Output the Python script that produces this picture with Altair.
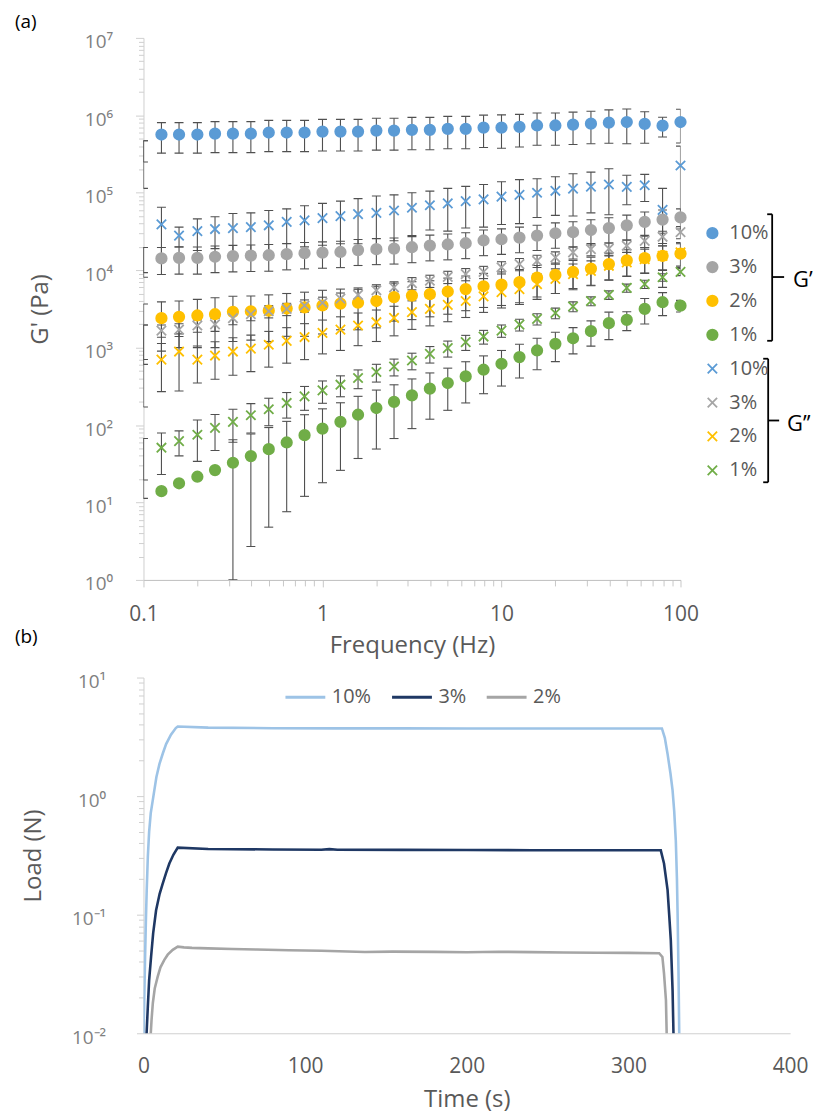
import altair as alt
import pandas as pd

# ---------------- panel (a): frequency sweep ----------------
freq = [0.126, 0.158, 0.2, 0.251, 0.316, 0.398, 0.501, 0.631, 0.794, 1.0,
        1.26, 1.58, 2.0, 2.51, 3.16, 3.98, 5.01, 6.31, 7.94, 10.0,
        12.6, 15.8, 20.0, 25.1, 31.6, 39.8, 50.1, 63.1, 79.4, 100.0]

gp_10 = [5.65e5, 5.65e5, 5.65e5, 5.8e5, 5.8e5, 5.8e5, 6.0e5, 6.0e5, 6.0e5, 6.17e5,
         6.17e5, 6.17e5, 6.35e5, 6.35e5, 6.5e5, 6.5e5, 6.7e5, 6.7e5, 6.95e5, 6.95e5,
         7.1e5, 7.4e5, 7.4e5, 7.6e5, 7.8e5, 8.05e5, 8.2e5, 7.75e5, 7.35e5, 8.2e5]
gp_10_sd = [2.4e5, 2.4e5, 2.4e5, 2.5e5, 2.5e5, 2.5e5, 2.6e5, 2.6e5, 2.6e5, 2.7e5,
            2.7e5, 2.7e5, 2.8e5, 2.8e5, 2.9e5, 2.9e5, 3.0e5, 3.0e5, 3.1e5, 3.2e5,
            3.2e5, 3.3e5, 3.3e5, 3.4e5, 3.5e5, 3.7e5, 3.9e5, 3.4e5, 2.1e5, 3.8e5]

gp_3 = [1.42e4, 1.44e4, 1.44e4, 1.49e4, 1.52e4, 1.54e4, 1.56e4, 1.61e4, 1.66e4, 1.69e4,
        1.72e4, 1.82e4, 1.87e4, 1.9e4, 1.98e4, 2.08e4, 2.15e4, 2.23e4, 2.42e4, 2.51e4,
        2.64e4, 2.8e4, 3.0e4, 3.1e4, 3.3e4, 3.5e4, 3.8e4, 4.2e4, 4.5e4, 4.8e4]
gp_3_sd = [5.4e3, 5.5e3, 5.5e3, 5.6e3, 5.7e3, 5.8e3, 5.9e3, 6.0e3, 6.2e3, 6.3e3,
           6.4e3, 6.7e3, 6.9e3, 7.0e3, 7.3e3, 7.6e3, 7.9e3, 8.2e3, 8.8e3, 9.1e3,
           9.6e3, 1.0e4, 1.08e4, 1.12e4, 1.18e4, 1.25e4, 1.35e4, 1.45e4, 1.5e4, 1.4e4]

gp_2 = [2.4e3, 2.5e3, 2.6e3, 2.7e3, 2.9e3, 2.95e3, 3.0e3, 3.2e3, 3.3e3, 3.5e3,
        3.7e3, 3.8e3, 4.0e3, 4.5e3, 4.7e3, 4.9e3, 5.3e3, 5.7e3, 6.2e3, 6.5e3,
        7.0e3, 8.0e3, 8.7e3, 9.5e3, 1.05e4, 1.2e4, 1.34e4, 1.43e4, 1.53e4, 1.64e4]
gp_2_sd = [1.5e3, 1.5e3, 1.6e3, 1.7e3, 1.7e3, 1.7e3, 1.8e3, 1.8e3, 1.9e3, 2.0e3,
           2.0e3, 2.1e3, 2.2e3, 2.3e3, 2.4e3, 2.4e3, 2.6e3, 2.7e3, 2.9e3, 3.0e3,
           3.2e3, 3.5e3, 3.7e3, 3.9e3, 4.2e3, 4.6e3, 5.0e3, 5.2e3, 5.4e3, 5.6e3]

gp_1 = [14, 17.7, 21.5, 26.2, 32.6, 39.7, 48.8, 59.6, 74, 90,
        110, 136, 166, 199, 242, 295, 349, 425, 518, 619,
        755, 919, 1120, 1320, 1630, 2070, 2280, 3160, 3860, 3480]
gp_1_sd = [1, 1, 1, 1.5, 32, 37, 44, 52, 62, 72,
           84, 99, 117, 132, 152, 176, 194, 232, 264, 300,
           350, 400, 460, 490, 585, 800, 620, 1140, 1270, 600]

gpp_10 = [3.9e4, 2.8e4, 3.2e4, 3.4e4, 3.5e4, 3.6e4, 3.8e4, 4.2e4, 4.4e4, 4.7e4,
          5.0e4, 5.3e4, 5.5e4, 5.9e4, 6.4e4, 6.9e4, 7.3e4, 7.8e4, 8.2e4, 8.9e4,
          9.4e4, 1.0e5, 1.06e5, 1.13e5, 1.2e5, 1.28e5, 1.19e5, 1.25e5, 6.0e4, 2.25e5]
gpp_10_sd = [2.6e4, 8e3, 1.4e4, 1.5e4, 1.9e4, 1.9e4, 2.1e4, 2.0e4, 2.4e4, 2.6e4,
             2.8e4, 3.1e4, 3.6e4, 3.5e4, 3.6e4, 3.6e4, 4.1e4, 4.3e4, 4.6e4, 5.0e4,
             5.4e4, 5.2e4, 5.5e4, 6.3e4, 6.5e4, 7.6e4, 4.9e4, 4.8e4, 5.4e4, 1.75e5]

gpp_3 = [1.66e3, 1.71e3, 1.93e3, 2.0e3, 2.4e3, 2.7e3, 2.95e3, 3.16e3, 3.5e3, 3.8e3,
         4.3e3, 4.8e3, 5.5e3, 6.0e3, 6.8e3, 7.3e3, 8.2e3, 8.9e3, 9.5e3, 1.09e4,
         1.2e4, 1.32e4, 1.46e4, 1.7e4, 1.87e4, 1.9e4, 2.07e4, 2.39e4, 2.7e4, 3.1e4]
gpp_3_sd = [300, 320, 350, 380, 430, 480, 530, 570, 630, 680,
            770, 860, 990, 1080, 1220, 1310, 1480, 1600, 1710, 1960,
            2160, 2380, 2630, 3060, 3370, 3420, 3730, 4300, 4860, 5580]

gpp_2 = [700, 890, 700, 790, 890, 970, 1090, 1220, 1370, 1550,
         1710, 1930, 2130, 2420, 2870, 3160, 3560, 4000, 4600, 5200,
         5700, 6600, 7700, 8900, 9800, 1.14e4, 1.26e4, 1.39e4, 1.53e4, 1.7e4]
gpp_2_sd = [430, 615, 350, 400, 450, 480, 530, 590, 670, 720,
            790, 870, 930, 1000, 1150, 1250, 1400, 1550, 1750, 1950,
            2100, 2400, 2700, 3100, 3400, 3900, 4300, 4700, 5200, 5700]

gpp_1 = [51, 62, 75, 92, 110, 134, 160, 193, 235, 281,
         332, 405, 484, 571, 682, 832, 985, 1180, 1390, 1660,
         1980, 2350, 2800, 3400, 4000, 4800, 5900, 6600, 8100, 9500]
gpp_1_sd = [28, 22, 41, 45, 50, 55, 62, 70, 80, 90,
            100, 110, 125, 140, 165, 200, 230, 260, 280, 300,
            340, 390, 440, 500, 520, 600, 700, 800, 900, 1000]

# stray error bars sitting on the 0.1 Hz axis edge
edge_f = 0.1
edge_lo = [1.14e5, 2.5e5, 8.1e3, 9.3e3, 607, 171, 703, 11.3, 19.5]
edge_hi = [4.7e5, 4.7e5, 1.96e4, 1.96e4, 3.66e3, 1.96e3, 1.96e3, 67, 67]

series_names = ["G'|10%", "G'|3%", "G'|2%", "G'|1%",
                "G''|10%", "G''|3%", "G''|2%", "G''|1%"]
series_vals = [gp_10, gp_3, gp_2, gp_1, gpp_10, gpp_3, gpp_2, gpp_1]
series_sd = [gp_10_sd, gp_3_sd, gp_2_sd, gp_1_sd, gpp_10_sd, gpp_3_sd, gpp_2_sd, gpp_1_sd]
series_colors = ["#5B9BD5", "#A5A5A5", "#FFC000", "#70AD47",
                 "#5B9BD5", "#A5A5A5", "#FFC000", "#70AD47"]
XPATH = "M-0.9,-0.9L0.9,0.9M-0.9,0.9L0.9,-0.9"
series_shapes = ["circle"] * 4 + [XPATH] * 4

# ---------------- panel (b): load vs time ----------------
t_10 = [0, 0.5, 1, 1.5, 2, 2.7, 3.5, 4.5, 6.2, 8, 9.9, 12, 14, 17, 20, 21.2, 40, 80, 120,
        160, 200, 240, 280, 320.7, 322.5, 324.2, 326, 327.3, 328.3, 329.3, 330, 330.4, 331, 331.5]
load_10 = [0.008, 0.02, 0.044, 0.09, 0.16, 0.31, 0.5, 0.72, 1.01, 1.45, 1.87, 2.3, 2.75, 3.3,
           3.75, 3.87, 3.78, 3.74, 3.73, 3.73, 3.72, 3.72, 3.72, 3.72, 3.1, 2.27, 1.55, 1.12,
           0.75, 0.42, 0.2, 0.103, 0.03, 0.008]
t_3 = [1.6, 2.7, 3.5, 4.7, 6, 7.8, 10, 11.9, 14, 16, 18.5, 21.2, 40, 80, 110, 115, 120, 160,
       200, 240, 280, 320, 322, 324.2, 325.2, 326.2, 327.3, 328]
load_3 = [0.008, 0.0169, 0.028, 0.044, 0.07, 0.109, 0.15, 0.183, 0.225, 0.27, 0.32, 0.368,
          0.358, 0.355, 0.353, 0.357, 0.353, 0.352, 0.351, 0.35, 0.35, 0.349, 0.27, 0.162,
          0.1, 0.061, 0.023, 0.008]
t_2 = [4.1, 5, 5.8, 7, 8.8, 10.5, 12.9, 15, 18.1, 21.2, 25, 30, 40, 55, 70, 90, 110, 137,
       154, 180, 200, 220, 240, 260, 280, 300, 319, 321, 322, 323.2, 323.8]
load_2 = [0.008, 0.013, 0.018, 0.024, 0.030, 0.036, 0.0416, 0.046, 0.0505, 0.0538, 0.053,
          0.0525, 0.052, 0.0513, 0.0508, 0.0502, 0.0496, 0.0485, 0.0488, 0.0486, 0.0482,
          0.0487, 0.0483, 0.048, 0.0478, 0.0476, 0.0473, 0.044, 0.032, 0.019, 0.008]
load_names = ["10%", "3%", "2%"]
load_colors = ["#9DC3E6", "#1F3864", "#A5A5A5"]

# ---------------- build tables ----------------
rows = []
for i, (name, vals, sds) in enumerate(zip(series_names, series_vals, series_sd)):
    for f, v, sd in zip(freq, vals, sds):
        rows.append({"s": name, "f": f, "v": v, "lo": max(v - sd, 1.0), "hi": v + sd, "k": i})
df_a = pd.DataFrame(rows)
err_df = pd.concat([
    df_a[["f", "lo", "hi"]],
    pd.DataFrame({"f": [edge_f] * len(edge_lo), "lo": edge_lo, "hi": edge_hi}),
], ignore_index=True)

df_b = pd.concat([
    pd.DataFrame({"t": t_10, "load": load_10, "c": "10%"}),
    pd.DataFrame({"t": t_3, "load": load_3, "c": "3%"}),
    pd.DataFrame({"t": t_2, "load": load_2, "c": "2%"}),
], ignore_index=True)

FONT = "Open Sans"
ISPOW = "abs(log(datum.value)/LN10 - round(log(datum.value)/LN10)) < 0.001"

xa_vals = [m * 10.0 ** e for e in (-1, 0, 1) for m in range(1, 10)] + [100.0]
ya_vals = [m * 10.0 ** e for e in range(0, 7) for m in range(1, 10)] + [1e7]
yb_vals = [m * 10.0 ** e for e in (-2, -1, 0) for m in range(1, 10)] + [10.0]

x_scale_a = alt.Scale(type="log", domain=[0.1, 100], nice=False)
y_scale_a = alt.Scale(type="log", domain=[1, 1e7], nice=False)

x_axis_a = alt.Axis(
    values=xa_vals, title="Frequency (Hz)",
    labelExpr=f"{ISPOW} ? format(datum.value, '~g') : ''",
    tickSize={"condition": {"test": ISPOW, "value": 7}, "value": 6},
    tickColor="#C8C8C8", domainColor="#BFBFBF", labelColor="#595959",
    labelFontSize=21, labelPadding=17, labelFont=FONT, labelOverlap=False, labelFlush=False,
    titleFontSize=24, titleColor="#595959", titleFont=FONT, titleFontWeight="normal",
    titlePadding=9, grid=False,
)
y_axis_a = alt.Axis(
    values=ya_vals, title="G' (Pa)",
    labelExpr=f"{ISPOW} ? '10' + ['⁰','¹','²','³','⁴','⁵','⁶','⁷'][round(log(datum.value)/LN10)] : ''",
    tickSize={"condition": {"test": ISPOW, "value": 8}, "value": 5},
    tickColor="#D0D0D0", domainColor="#D0D0D0", labelColor="#808080",
    labelFontSize=19, labelPadding=23, labelOffset=4, labelFont=FONT, labelOverlap=False,
    labelFlush=False, titleFontSize=24, titleColor="#595959", titleFont=FONT,
    titleFontWeight="normal", titlePadding=32, grid=False,
)

legend_a = alt.Legend(
    orient="none", legendX=561, legendY=186, title=None, padding=0,
    labelExpr="split(datum.label, '|')[1]", labelFontSize=20, labelColor="#595959",
    labelFont=FONT, symbolSize=110, symbolStrokeWidth=1.8, rowPadding=14, labelOffset=7,
)

base_a = alt.Chart(df_a)
ERRC = "#505050"
err_rule = alt.Chart(err_df).mark_rule(color=ERRC, strokeWidth=1.1, clip=True).encode(
    x=alt.X("f:Q", scale=x_scale_a, axis=x_axis_a),
    y=alt.Y("lo:Q", scale=y_scale_a, axis=y_axis_a),
    y2="hi:Q",
)
cap_lo = alt.Chart(err_df).mark_rule(color=ERRC, strokeWidth=1.1, clip=True,
                                     xOffset=-4.5, x2Offset=4.5).encode(
    x="f:Q", x2="f:Q", y="lo:Q")
cap_hi = alt.Chart(err_df).mark_rule(color=ERRC, strokeWidth=1.1, clip=True,
                                     xOffset=-4.5, x2Offset=4.5).encode(
    x="f:Q", x2="f:Q", y="hi:Q")

pts = base_a.mark_point(filled=True, opacity=1, size=110, strokeWidth=1.8).encode(
    x=alt.X("f:Q", scale=x_scale_a),
    y=alt.Y("v:Q", scale=y_scale_a),
    color=alt.Color("s:N", scale=alt.Scale(domain=series_names, range=series_colors), legend=legend_a),
    stroke=alt.Stroke("s:N", scale=alt.Scale(domain=series_names, range=series_colors), legend=legend_a),
    shape=alt.Shape("s:N", scale=alt.Scale(domain=series_names, range=series_shapes), legend=legend_a),
    order=alt.Order("k:Q"),
)

one = alt.Data(values=[{}])


def seg(x1, x2, y1, y2):
    return alt.Chart(one).mark_rule(color="black", strokeWidth=1.8).encode(
        x=alt.value(x1), x2=alt.value(x2), y=alt.value(y1), y2=alt.value(y2))


def label(x, y, txt, size=20, color="black"):
    return alt.Chart(one).mark_text(align="left", baseline="middle", font=FONT,
                                    fontSize=size, color=color).encode(
        x=alt.value(x), y=alt.value(y), text=alt.value(txt))


brackets = [
    seg(631, 631, 177, 304), seg(626, 631, 177, 177), seg(626, 631, 304, 304), seg(631, 643, 240, 240),
    seg(627, 627, 322, 446), seg(622, 627, 322, 322), seg(622, 627, 446, 446), seg(627, 638, 384, 384),
    label(652, 243, "G’", 22), label(646, 388, "G’’", 22),
    label(-129, -16, "(a)", 19), label(-129, 601, "(b)", 19),
]

panel_a = alt.layer(err_rule, cap_lo, cap_hi, pts, *brackets).properties(width=539, height=544)

# ---------------- panel (b) ----------------
legend_b = alt.Legend(
    orient="none", legendX=141, legendY=-2, direction="horizontal", title=None, padding=0,
    symbolType="stroke", symbolSize=1600, symbolStrokeWidth=3, labelFontSize=20,
    labelColor="#595959", labelFont=FONT, columnPadding=14, labelOffset=5,
)
x_axis_b = alt.Axis(
    values=[0, 100, 200, 300, 400], title="Time (s)", ticks=False,
    domainColor="#D0D0D0", labelColor="#595959", labelFontSize=21, labelPadding=22,
    labelFont=FONT, labelFlush=False, titleFontSize=24, titleColor="#595959", titleFont=FONT,
    titleFontWeight="normal", titlePadding=12, grid=False,
)
y_axis_b = alt.Axis(
    values=yb_vals, title="Load (N)",
    labelExpr=f"{ISPOW} ? '10' + ['⁻²','⁻¹','⁰','¹'][round(log(datum.value)/LN10) + 2] : ''",
    tickSize={"condition": {"test": ISPOW, "value": 7}, "value": 5},
    tickColor="#D0D0D0", domainColor="#D0D0D0", labelColor="#808080",
    labelFontSize=19, labelPadding=31, labelOffset=4, labelFont=FONT, labelOverlap=False,
    labelFlush=False, titleFontSize=24, titleColor="#595959", titleFont=FONT,
    titleFontWeight="normal", titlePadding=26, grid=False,
)
lines = alt.Chart(df_b).mark_line(strokeWidth=2.6, clip=True).encode(
    x=alt.X("t:Q", scale=alt.Scale(domain=[0, 400], nice=False), axis=x_axis_b),
    y=alt.Y("load:Q", scale=alt.Scale(type="log", domain=[0.01, 10], nice=False), axis=y_axis_b),
    color=alt.Color("c:N", scale=alt.Scale(domain=load_names, range=load_colors), legend=legend_b),
    order="t:Q",
)
panel_b = lines.properties(width=649, height=357)

chart = alt.vconcat(panel_a, panel_b, spacing=98, bounds="flush").resolve_scale(
    color="independent", stroke="independent", shape="independent"
).properties(
    padding={"left": 15, "top": 11, "right": 5, "bottom": 0}
).configure_view(stroke=None)

chart.save("out.html", embed_options={"renderer": "svg", "actions": False})
